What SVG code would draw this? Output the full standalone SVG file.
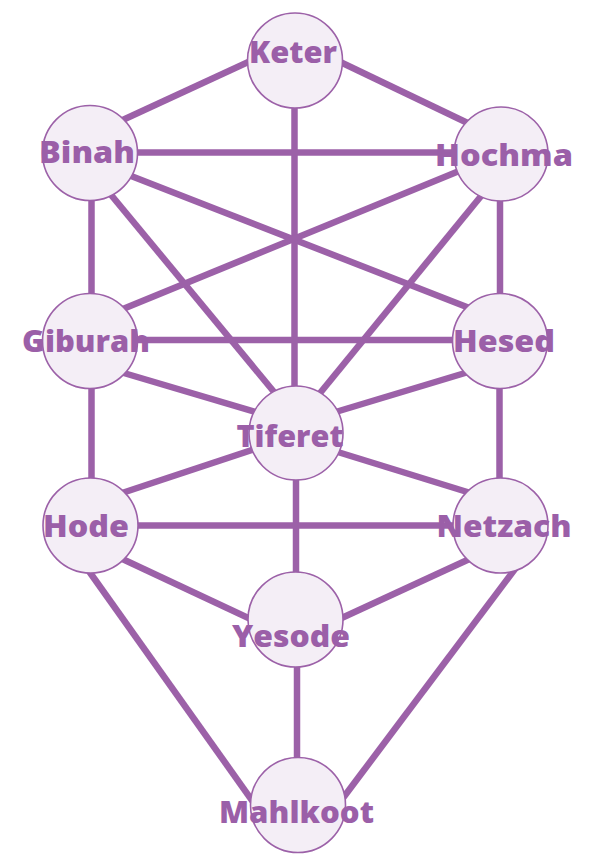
<svg xmlns="http://www.w3.org/2000/svg" width="605" height="864" viewBox="0 0 605 864">
<style>
.e{stroke:#9c61a8;stroke-width:6.5;fill:none}
.n circle{fill:#f4eef6;stroke:#9c61a8;stroke-width:1.6}
.n text{fill:#9b5fa8;font-family:"Open Sans","Liberation Sans",sans-serif;font-weight:800;font-size:30px;text-anchor:middle}
</style>
<rect width="605" height="864" fill="#ffffff"/>
<g id="connectors">
<line class="e" x1="114" y1="124" x2="257" y2="58"/>
<line class="e" x1="334" y1="59" x2="476" y2="127"/>
<line class="e" x1="294.5" y1="100" x2="294.5" y2="395"/>
<line class="e" x1="130" y1="152.5" x2="460" y2="152.5"/>
<line class="e" x1="91.5" y1="190" x2="91.5" y2="305"/>
<line class="e" x1="107" y1="190" x2="279" y2="398"/>
<line class="e" x1="126" y1="174" x2="477" y2="311"/>
<line class="e" x1="464" y1="169" x2="118" y2="311"/>
<line class="e" x1="486" y1="190" x2="316" y2="398"/>
<line class="e" x1="500" y1="190" x2="500" y2="305"/>
<line class="e" x1="130" y1="340" x2="460" y2="340"/>
<line class="e" x1="117" y1="371" x2="262" y2="414"/>
<line class="e" x1="91.5" y1="380" x2="91.5" y2="490"/>
<line class="e" x1="475" y1="370" x2="329" y2="414"/>
<line class="e" x1="499.5" y1="380" x2="499.5" y2="490"/>
<line class="e" x1="261" y1="447" x2="116" y2="495"/>
<line class="e" x1="328" y1="449" x2="477" y2="495"/>
<line class="e" x1="296" y1="470" x2="296" y2="585"/>
<line class="e" x1="130" y1="525.5" x2="460" y2="525.5"/>
<line class="e" x1="116" y1="556" x2="257" y2="622"/>
<line class="e" x1="476" y1="556" x2="333" y2="622"/>
<line class="e" x1="86" y1="567" x2="256" y2="806"/>
<line class="e" x1="518" y1="565" x2="337" y2="806"/>
<line class="e" x1="297" y1="655" x2="297" y2="770"/>
</g>
<g id="keter" class="n"><circle cx="295" cy="60.5" r="47.5"/><text x="293" y="63" textLength="88" lengthAdjust="spacingAndGlyphs">Keter</text></g>
<g id="binah" class="n"><circle cx="90" cy="153" r="47.5"/><text x="87" y="163" textLength="96" lengthAdjust="spacingAndGlyphs">Binah</text></g>
<g id="hochma" class="n"><circle cx="501" cy="154" r="47"/><text x="504" y="165.5" textLength="138" lengthAdjust="spacingAndGlyphs">Hochma</text></g>
<g id="giburah" class="n"><circle cx="90" cy="341" r="47.5"/><text x="86" y="351.5" textLength="128" lengthAdjust="spacingAndGlyphs">Giburah</text></g>
<g id="hesed" class="n"><circle cx="500" cy="341" r="47.5"/><text x="504" y="351.5" textLength="102" lengthAdjust="spacingAndGlyphs">Hesed</text></g>
<g id="tiferet" class="n"><circle cx="296" cy="433" r="47"/><text x="290" y="446.5" textLength="107" lengthAdjust="spacingAndGlyphs">Tiferet</text></g>
<g id="hode" class="n"><circle cx="90.5" cy="525.5" r="47.5"/><text x="86" y="536.5" textLength="86" lengthAdjust="spacingAndGlyphs">Hode</text></g>
<g id="netzach" class="n"><circle cx="500.5" cy="525.5" r="47.5"/><text x="504" y="537" textLength="135" lengthAdjust="spacingAndGlyphs">Netzach</text></g>
<g id="yesode" class="n"><circle cx="295.5" cy="619.5" r="47.5"/><text x="291" y="647" textLength="118" lengthAdjust="spacingAndGlyphs">Yesode</text></g>
<g id="mahlkoot" class="n"><circle cx="298" cy="805" r="47.5"/><text x="296.5" y="822.5" textLength="155" lengthAdjust="spacingAndGlyphs">Mahlkoot</text></g>
</svg>
